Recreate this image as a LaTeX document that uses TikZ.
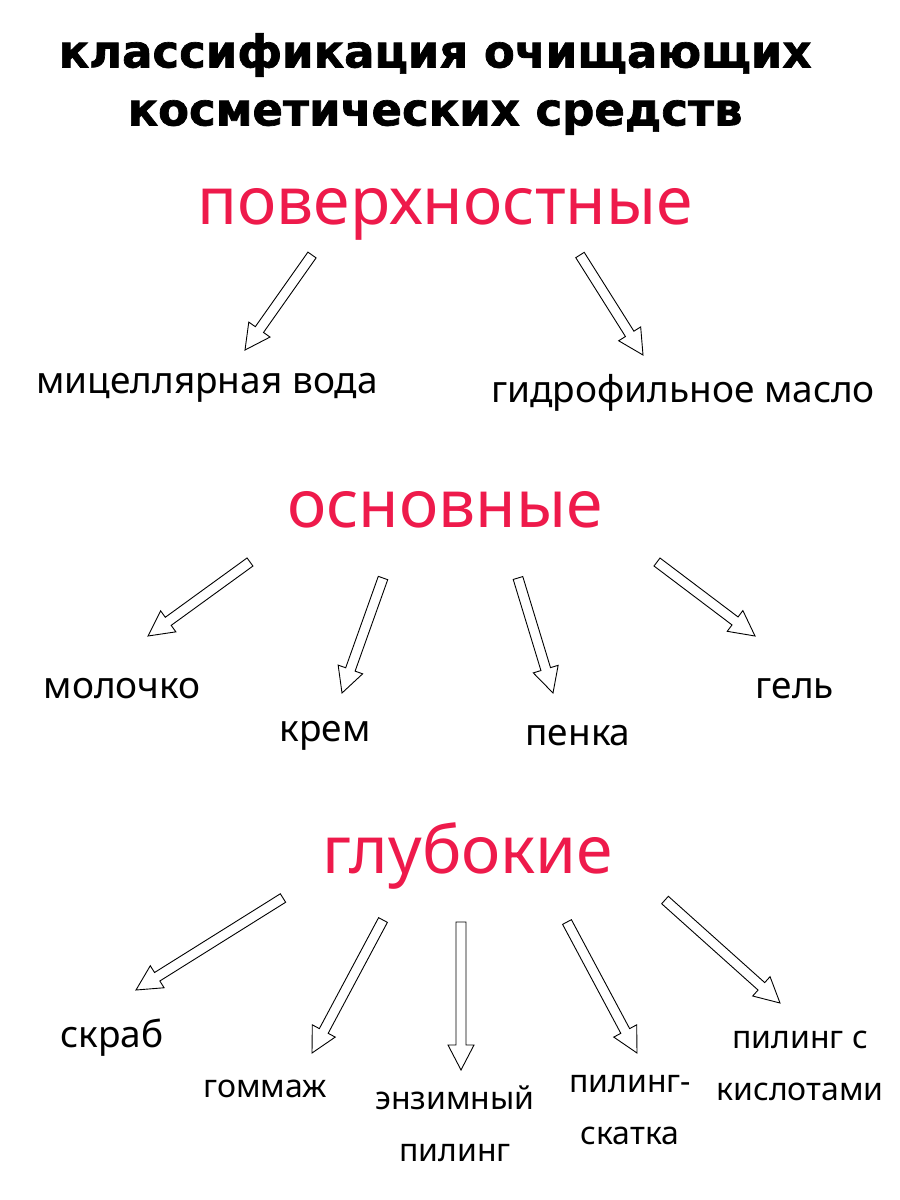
\documentclass[tikz,border=0pt]{standalone}
\usepackage{fontspec}
\setmainfont{Noto Sans}
\newfontfamily\tfont{DejaVu Sans}[BoldFont={DejaVu Sans Bold}]
\usetikzlibrary{calc}
\definecolor{hot}{HTML}{EE1A4B}
\tikzset{
 arr/.style={draw=black,line width=0.9pt,fill=white,line join=miter},
 lbl/.style={font=\fontsize{37}{40}\selectfont,align=center},
 lbs/.style={font=\fontsize{32}{52}\selectfont,align=center},
 cat/.style={font=\fontsize{66}{60}\selectfont,text=hot},
 ttl/.style={font=\tfont\bfseries\fontsize{45}{58}\selectfont,align=center}
}
\newcommand\harrow[2]{\draw[arr] ($(#1)!5pt!90:(#2)$) -- ($($(#2)!25pt!(#1)$)!5pt!90:(#2)$) -- ($($(#2)!25pt!(#1)$)!13pt!90:(#2)$) -- (#2) -- ($($(#2)!25pt!(#1)$)!13pt!-90:(#2)$) -- ($($(#2)!25pt!(#1)$)!5pt!-90:(#2)$) -- ($(#1)!5pt!-90:(#2)$) -- cycle;}
\begin{document}
\begin{tikzpicture}[x=1pt,y=-1pt]
\useasboundingbox[fill=white] (0,0) rectangle (900,1200);
\node[ttl] (t) at (435,84) {\addfontfeature{FakeBold=1.5}классификация очищающих\\\addfontfeature{FakeBold=1.5}косметических средств};
\node[cat] (c1) at (445,214) {поверхностные};
\node[cat] (c2) at (445,510) {основные};
\node[cat] (c3) at (468,856) {глубокие};
\node[lbl] (a1) at (207,388) {мицеллярная вода};
\node[lbl] (a2) at (683,393) {гидрофильное масло};
\node[lbl] (b1) at (122,689) {молочко};
\node[lbl] (b2) at (325,736) {крем};
\node[lbl] (b3) at (578,736) {пенка};
\node[lbl] (b4) at (795,689) {гель};
\node[lbl] (d1) at (112,1038) {скраб};
\node[lbs] (d2) at (265,1089) {гоммаж};
\node[lbs] (d3) at (455,1124) {энзимный\\пилинг};
\node[lbs] (d4) at (630,1110) {пилинг-\\скатка};
\node[lbs] (d5) at (800,1066) {пилинг с\\кислотами};
\foreach \n/\p in {s1/{312,255},e1/{245,350},s2/{580,255},e2/{643,355},
 s3/{250,562},e3/{148,636},s4/{383,578},e4/{342,693},s5/{518,578},e5/{553,693},s6/{657,562},e6/{755,636},
 s7/{283,898},e7/{136,990},s8/{383,920},e8/{312,1053},s9/{461,922},e9/{461,1070},s10/{567,922},e10/{637,1053},s11/{665,900},e11/{780,1003}}
 {\coordinate (\n) at (\p);}
\foreach \i in {1,...,11}{\harrow{s\i}{e\i}}
\end{tikzpicture}
\end{document}
